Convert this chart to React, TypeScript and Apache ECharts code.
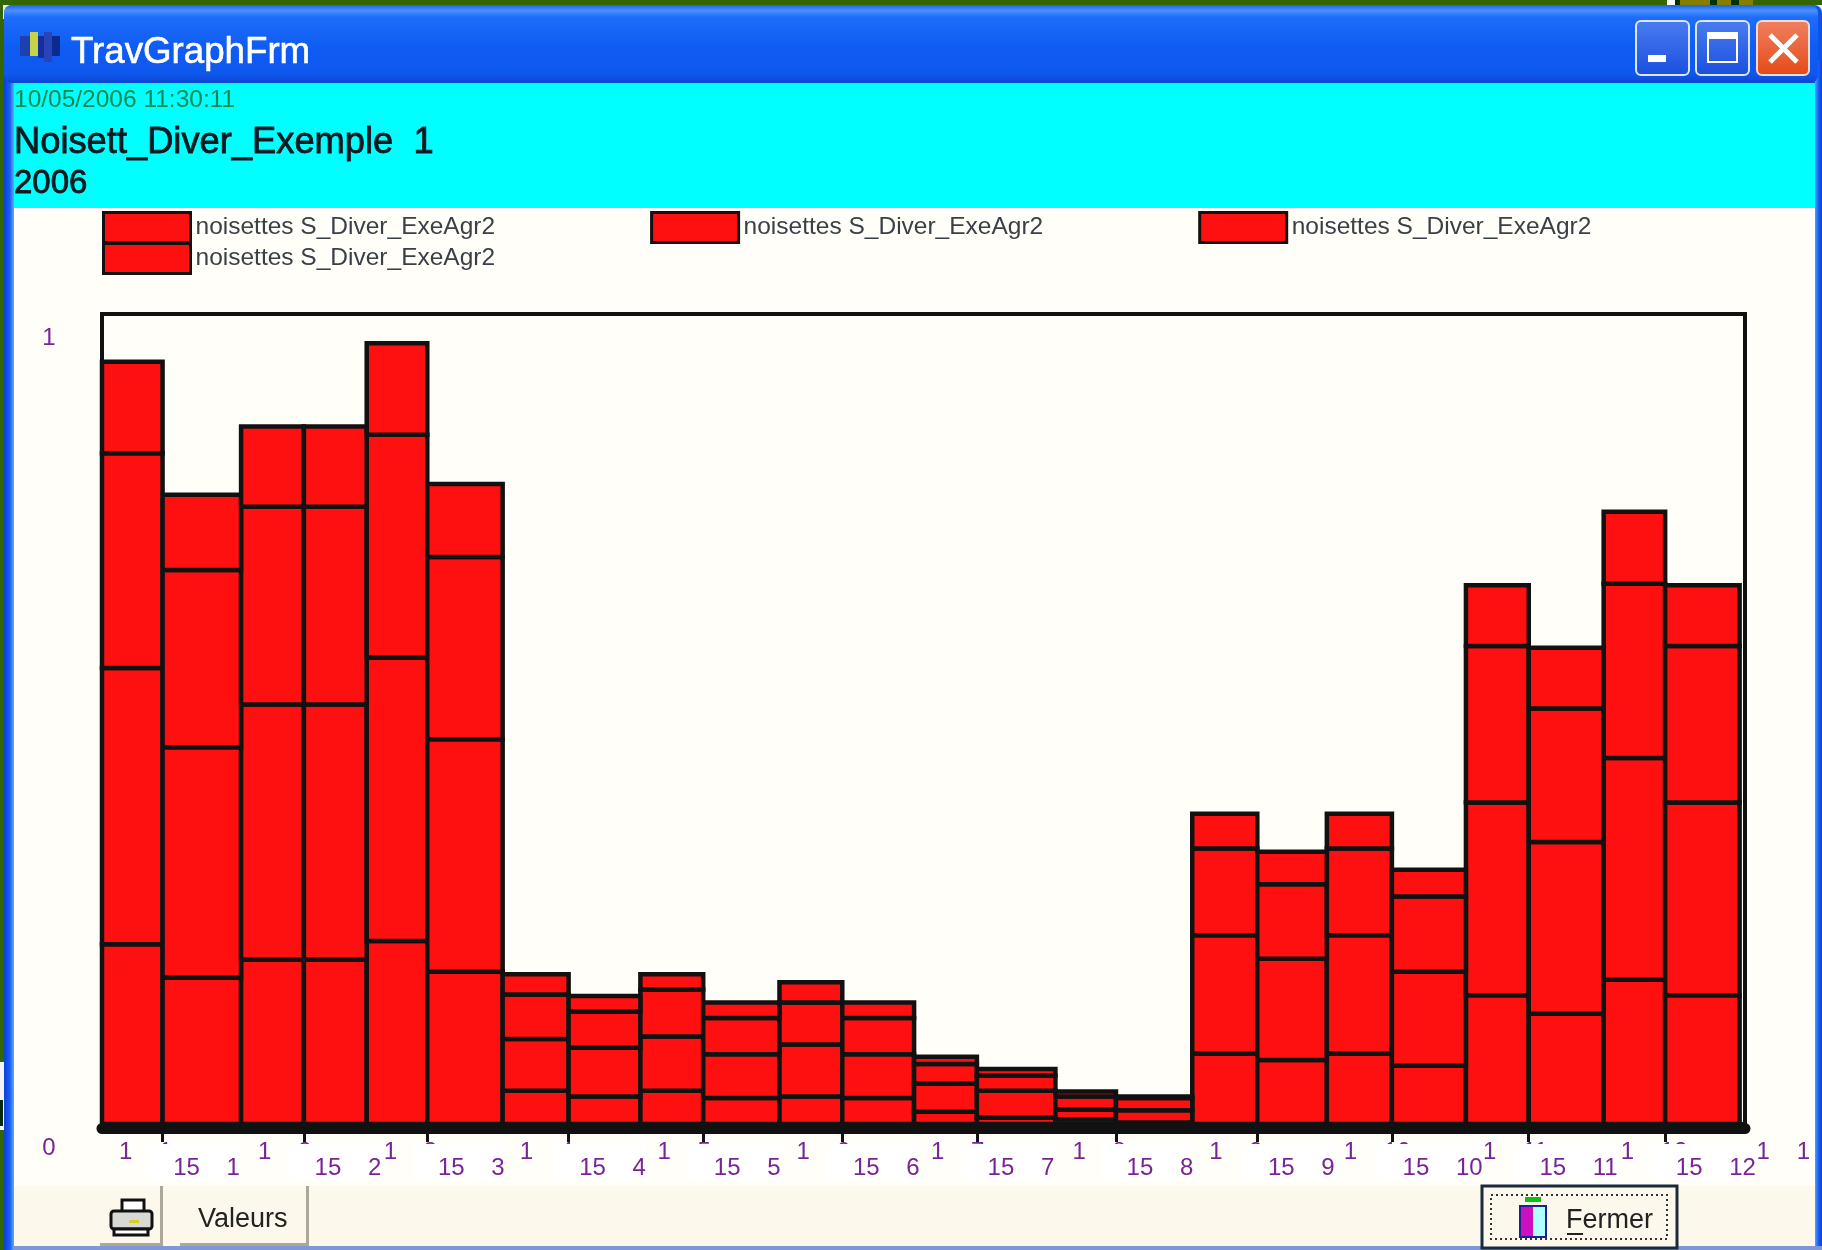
import React, { useEffect, useRef } from "react";
import * as echarts from "echarts";

// Day of year at which each half-month bin starts/ends (2006)
const binEdges = [0, 13.5, 31, 45, 59, 72.5, 89.3, 104, 120, 134, 151, 165, 181, 195, 212.5, 226, 243, 257.5, 273, 287.5, 304, 318, 334.7, 348.4, 365];
const rowOneLabels = ["1    1", "1    2", "1    3", "1    4", "1    5", "1    6", "1    7", "1    8", "1    9", "1    10", "1    11", "1    12", "1    1"];
const rowTwoLabels = ["15    1", "15    2", "15    3", "15    4", "15    5", "15    6", "15    7", "15    8", "15    9", "15    10", "15    11", "15    12"];

// Stacked segments, bottom to top
const seriesA = [0.222, 0.181, 0.203, 0.203, 0.226, 0.188, 0.041, 0.034, 0.041, 0.032, 0.034, 0.032, 0.015, 0.008, 0.006, 0.002, 0.087, 0.079, 0.087, 0.072, 0.159, 0.136, 0.178, 0.159];
const seriesB = [0.341, 0.284, 0.315, 0.315, 0.350, 0.287, 0.064, 0.060, 0.067, 0.054, 0.064, 0.054, 0.035, 0.033, 0.012, 0.015, 0.146, 0.125, 0.146, 0.116, 0.238, 0.212, 0.274, 0.238];
const seriesC = [0.265, 0.219, 0.244, 0.244, 0.275, 0.225, 0.055, 0.045, 0.058, 0.045, 0.052, 0.045, 0.024, 0.019, 0.016, 0.015, 0.107, 0.092, 0.107, 0.093, 0.193, 0.165, 0.215, 0.193];
const seriesD = [0.113, 0.093, 0.099, 0.099, 0.113, 0.090, 0.025, 0.019, 0.019, 0.019, 0.025, 0.019, 0.009, 0.008, 0.006, 0.002, 0.043, 0.040, 0.043, 0.033, 0.075, 0.075, 0.089, 0.075];
const segmentSeries = [seriesA, seriesB, seriesC, seriesD];
const seriesNames = ["A", "B", "C", "D"];
const legendLabel = "noisettes S_Diver_ExeAgr2";

const monthStarts = binEdges.filter((_, i) => i % 2 === 0);
const midMonths = binEdges.filter((_, i) => i % 2 === 1);
const rowTwoStarts = midMonths.map((d) => d - 3.2);

const RED = "#ff1010";
const INK = "#111111";
const TICK_INK = "#7a2396";
const FONT = '"Liberation Sans", Arial, sans-serif';

function rect(x: number, y: number, w: number, h: number, fill: any, z = -1, extra: any = {}) {
  return { type: "rect", z, silent: true, shape: { x, y, width: w, height: h, r: extra.r || 0 }, style: { fill, stroke: extra.stroke, lineWidth: extra.lineWidth, lineDash: extra.lineDash } };
}
function txt(x: number, y: number, text: string, fontSize: number, fill: string, extra: any = {}) {
  return { type: "text", z: 5, silent: true, x, y, style: { text, fontSize, fill, fontFamily: FONT, textVerticalAlign: "middle", textBaseline: "middle", ...extra } };
}
function vGrad(stops: [number, string][]) {
  return new echarts.graphic.LinearGradient(0, 0, 0, 1, stops.map(([offset, color]) => ({ offset, color })));
}
function hGrad(stops: [number, string][]) {
  return new echarts.graphic.LinearGradient(0, 0, 1, 0, stops.map(([offset, color]) => ({ offset, color })));
}
function segment(x1: number, y1: number, x2: number, y2: number, stroke: string, lineWidth: number, z = 5) {
  return { type: "line", z, silent: true, shape: { x1, y1, x2, y2 }, style: { stroke, lineWidth } };
}

function chrome(): any[] {
  return [
    rect(0, 0, 1822, 1250, "#336600", -5),
    rect(1667, 0, 8, 5, "#ffffff", -4),
    rect(1675, 0, 5, 5, "#003300", -4),
    rect(1680, 0, 30, 5, "#857f00", -4),
    rect(1710, 0, 7, 5, "#003300", -4),
    rect(1717, 0, 14, 5, "#857f00", -4),
    rect(1731, 0, 8, 5, "#003300", -4),
    rect(1739, 0, 14, 5, "#857f00", -4),
    rect(0, 1062, 4, 68, "#f2f2f2", -4),
    rect(0, 1100, 3, 26, "#0b2a0b", -4),
    rect(3, 5, 12, 14, "#f4f4f0", -4),
    rect(1806, 5, 16, 14, "#f4f4f0", -4),
    // window frame
    rect(4, 5, 1818, 1245, "#0f52e8", -4, { r: 8 }),
    rect(4, 60, 10, 1190, hGrad([[0, "#0a3fd8"], [0.6, "#1660f5"], [1, "#6aa8ff"]]), -3),
    rect(1815, 60, 7, 1190, hGrad([[0, "#5c9cff"], [0.5, "#1660f5"], [1, "#0a3fd8"]]), -3),
    // title bar
    rect(4, 5, 1814, 78, vGrad([[0, "#1c62e6"], [0.07, "#4a90ff"], [0.16, "#1e6cf8"], [0.55, "#0f5cf4"], [0.88, "#0e58ee"], [1, "#0c45d2"]]), -3, { r: 8 }),
    // client area
    rect(14, 83, 1801, 1163, "#fffef8", -3),
    rect(14, 83, 1801, 125, "#00ffff", -2),
    rect(14, 1186, 1801, 60, "#fcf8ec", -2),
    rect(14, 1246, 1808, 4, "#7f97d8", -2),
    // caption icon
    rect(20, 36, 10, 20, "#1e3fb0", 3),
    rect(30, 32, 8, 24, "#c6d24a", 3),
    rect(38, 36, 6, 22, "#142f9a", 3),
    rect(44, 32, 8, 30, "#2744b8", 3),
    rect(52, 36, 8, 20, "#0c2a90", 3),
    // caption buttons
    rect(1636, 21, 53, 54, vGrad([[0, "#4a7cf0"], [1, "#1a4fe0"]]), 3, { r: 5, stroke: "#dbe6ff", lineWidth: 2 }),
    rect(1696, 21, 53, 54, vGrad([[0, "#4a7cf0"], [1, "#1a4fe0"]]), 3, { r: 5, stroke: "#dbe6ff", lineWidth: 2 }),
    rect(1757, 21, 52, 54, vGrad([[0, "#f08060"], [1, "#e64a18"]]), 3, { r: 5, stroke: "#f2dcd4", lineWidth: 2 }),
    rect(1648, 55, 18, 7, "#ffffff", 4),
    rect(1708, 33, 29, 29, "rgba(0,0,0,0)", 4, { stroke: "#ffffff", lineWidth: 2 }),
    rect(1708, 33, 29, 6, "#ffffff", 4),
    segment(1770, 35, 1797, 62, "#ffffff", 5),
    segment(1797, 35, 1770, 62, "#ffffff", 5),
    // texts
    txt(71, 50, "TravGraphFrm", 36.7, "#ffffff", { stroke: "#ffffff", lineWidth: 0.6 }),
    txt(14, 98, "10/05/2006 11:30:11", 24.5, "#0c8a52"),
    txt(14, 140, "Noisett_Diver_Exemple  1", 36.3, "#101820", { stroke: "#101820", lineWidth: 0.8 }),
    txt(14, 181, "2006", 33, "#101820", { stroke: "#101820", lineWidth: 0.8 }),
    // print button
    rect(100, 1186, 62, 59, "#fcf8ec", 3),
    rect(160, 1186, 3, 60, "#aca899", 3),
    rect(100, 1243, 62, 3, "#aca899", 3),
    rect(122, 1200, 22, 12, "#ffffff", 4, { stroke: "#111111", lineWidth: 3 }),
    rect(111, 1211, 41, 18, "#d8d8d4", 4, { stroke: "#111111", lineWidth: 3, r: 3 }),
    rect(129, 1220, 10, 3, "#d8d020", 5),
    rect(114, 1229, 34, 6, "#ffffff", 4, { stroke: "#111111", lineWidth: 3 }),
    // values button
    rect(180, 1186, 128, 59, "#fcf8ec", 3),
    rect(306, 1186, 3, 60, "#aca899", 3),
    rect(180, 1243, 129, 3, "#aca899", 3),
    txt(198, 1218, "Valeurs", 27, "#222222"),
    // close button
    rect(1482, 1186, 195, 62, "#fcf8ec", 3, { stroke: "#1a2a3a", lineWidth: 3 }),
    rect(1491, 1195, 176, 44, "rgba(0,0,0,0)", 4, { stroke: "#333333", lineWidth: 2, lineDash: [2, 3] }),
    rect(1525, 1197, 16, 5, "#10c010", 4),
    rect(1520, 1206, 13, 31, "#cc10c0", 4),
    rect(1533, 1206, 13, 31, "#b0ffff", 4),
    rect(1520, 1206, 26, 31, "rgba(0,0,0,0)", 5, { stroke: "#202090", lineWidth: 2 }),
    txt(1566, 1219, "Fermer", 27, "#222222"),
    rect(1567, 1233, 16, 2, "#222222", 5),
  ];
}

function stackedData(index: number) {
  return binEdges.slice(0, -1).map((start, i) => {
    let base = 0;
    for (let s = 0; s < index; s++) base += segmentSeries[s][i];
    return [start, binEdges[i + 1], base, base + segmentSeries[index][i]];
  });
}

export default function App() {
  const ref = useRef<HTMLDivElement>(null);
  useEffect(() => {
    const chart = echarts.init(ref.current!, undefined, { renderer: "svg" });
    const legendShared = {
      orient: "horizontal",
      padding: 0,
      itemWidth: 87,
      itemHeight: 30,
      icon: "rect",
      itemGap: 155,
      selectedMode: false,
      formatter: () => `{a|${legendLabel}}`,
      itemStyle: { color: RED, borderColor: INK, borderWidth: 3 },
      textStyle: {
        rich: { a: { fontFamily: FONT, fontSize: 24.5, color: "#3a4048", padding: [0, 0, 5, 0] } },
      },
    };
    chart.setOption({
      animation: false,
      backgroundColor: "transparent",
      graphic: { elements: chrome() },
      legend: [
        { ...legendShared, left: 102, top: 211, data: seriesNames.slice(0, 3) },
        { ...legendShared, left: 102, top: 242, data: seriesNames.slice(3) },
      ],
      grid: {
        left: 102,
        top: 314,
        width: 1643,
        height: 810,
        show: true,
        borderColor: INK,
        borderWidth: 4,
        backgroundColor: "transparent",
        containLabel: false,
        outerBoundsMode: "none",
      },
      xAxis: [
        {
          type: "value",
          position: "bottom",
          min: 0,
          max: 366.2,
          offset: 4,
          z: 3,
          splitLine: { show: false },
          axisLine: { show: true, onZero: false, lineStyle: { color: INK, width: 11, cap: "round" } },
          axisTick: { show: true, customValues: midMonths, length: 14, lineStyle: { color: INK, width: 3 } },
          axisLabel: {
            customValues: monthStarts,
            align: "left",
            margin: 10,
            hideOverlap: false,
            formatter: (v: number) => `{a|${rowOneLabels[monthStarts.indexOf(v)]}}`,
            rich: { a: { fontFamily: FONT, fontSize: 24, lineHeight: 24, color: TICK_INK, padding: [0, 0, 0, 17] } },
          },
        },
        {
          type: "value",
          position: "bottom",
          min: 0,
          max: 366.2,
          offset: 4,
          z: 4,
          splitLine: { show: false },
          axisLine: { show: false, onZero: false },
          axisTick: { show: false },
          axisLabel: {
            customValues: rowTwoStarts,
            margin: 22,
            align: "left",
            hideOverlap: false,
            formatter: (v: number) => `{a|${rowTwoLabels[rowTwoStarts.indexOf(v)]}}`,
            rich: { a: { fontFamily: FONT, fontSize: 24, lineHeight: 24, color: TICK_INK, padding: [10, 0, 2, 25], backgroundColor: "#ffffff" } },
          },
        },
      ],
      yAxis: {
        type: "value",
        min: 0,
        max: 1,
        interval: 1,
        splitLine: { show: false },
        axisLine: { show: false },
        axisTick: { show: false },
        axisLabel: {
          margin: 53,
          align: "center",
          verticalAlign: "top",
          lineHeight: 44,
          fontFamily: FONT,
          fontSize: 24,
          color: TICK_INK,
        },
      },
      series: seriesNames.map((name, index) => ({
        name,
        type: "custom",
        xAxisIndex: 0,
        yAxisIndex: 0,
        z: 2 + index,
        itemStyle: { color: RED, borderColor: INK, borderWidth: 3 },
        encode: { x: [0, 1], y: [2, 3] },
        data: stackedData(index),
        renderItem: (_params: any, api: any) => {
          const a = api.coord([api.value(0), api.value(2)]);
          const b = api.coord([api.value(1), api.value(3)]);
          return {
            type: "rect",
            shape: { x: a[0], y: b[1], width: b[0] - a[0], height: a[1] - b[1] },
            style: { fill: RED, stroke: INK, lineWidth: 4.5 },
          };
        },
      })),
    });
    return () => chart.dispose();
  }, []);
  return <div ref={ref} style={{ position: "fixed", left: 0, top: 0, width: 1822, height: 1250 }} />;
}
